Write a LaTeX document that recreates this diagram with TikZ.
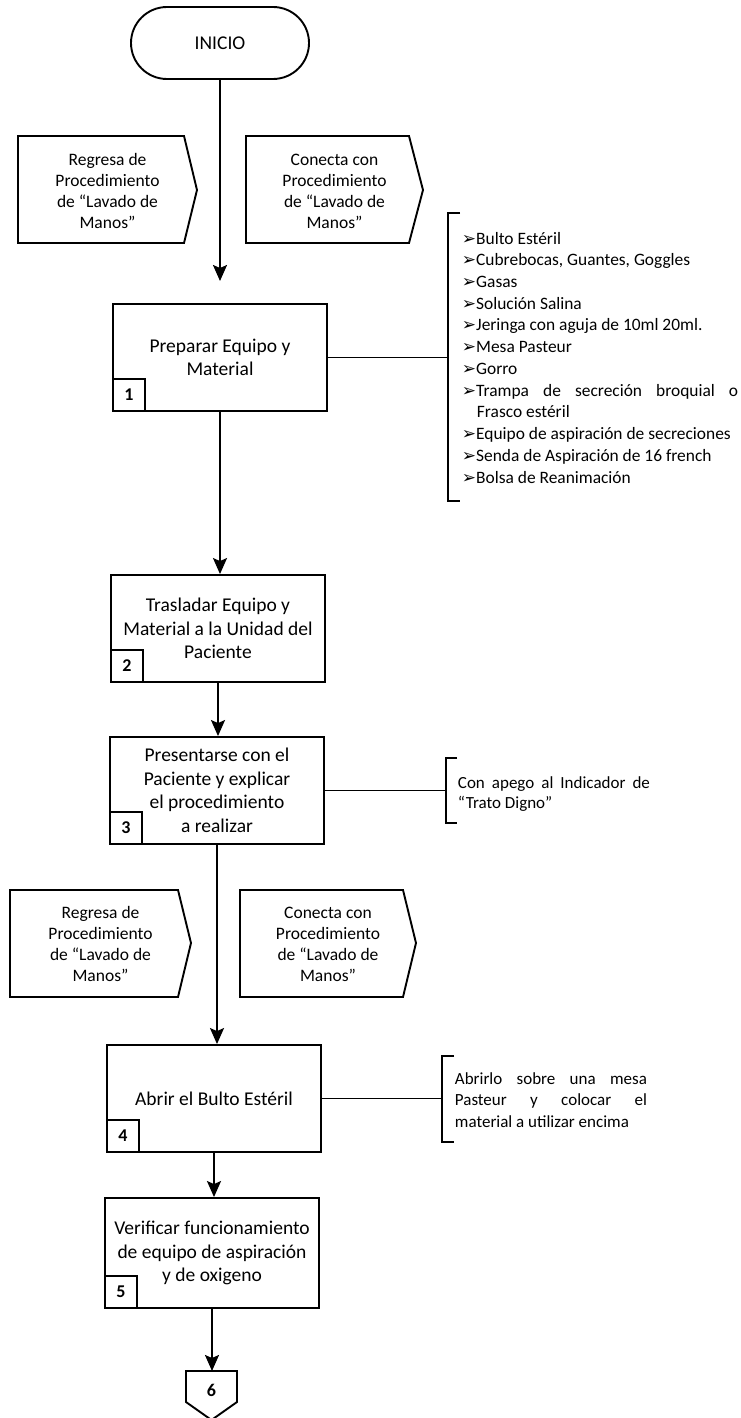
\documentclass[tikz,border=0pt]{standalone}
\usepackage{fontspec}
\setmainfont{Carlito}
\newfontfamily\dingfont{DejaVu Sans}
\usetikzlibrary{arrows.meta}
\newcommand{\lstmark}{{\dingfont\fontsize{17}{17}\selectfont ➢}}
\begin{document}
\begin{tikzpicture}[x=1pt,y=-1pt,
  line width=1.9pt,
  stepbox/.style={draw, rectangle, minimum width=214pt, minimum height=107pt,
    align=center, inner sep=0pt, font=\fontsize{19.5}{23.5}\selectfont},
  numbox/.style={draw, rectangle, minimum size=32pt, inner sep=0pt,
    anchor=south west, font=\bfseries\fontsize{18}{18}\selectfont},
  flow/.style={-{Stealth[length=16pt,width=14pt,inset=3pt]}},
  linkshape/.style={draw, line join=miter},
  linktext/.style={align=center, inner sep=0pt, font=\fontsize{17.5}{21}\selectfont},
  listitem/.style={anchor=base west, inner sep=0pt, font=\fontsize{17.4}{21}\selectfont},
  note/.style={anchor=base west, inner sep=0pt},
  brace/.style={draw, line width=1.6pt}
]
\useasboundingbox[fill=white] (0,0) rectangle (740,1418);

% start terminal
\node[draw, rounded corners=36pt, minimum width=178pt, minimum height=72pt,
  inner sep=0pt, font=\fontsize{19.5}{23.5}\selectfont] (inicio) at (220,43) {INICIO};

% first pair of off-page links
\draw[linkshape] (18,136) -- (184,136) -- (197,190) -- (184,243) -- (18,243) -- cycle;
\node[linktext] (c1) at (107.5,191) {Regresa de\\Procedimiento\\de “Lavado de\\Manos”};
\draw[linkshape] (246,136) -- (409,136) -- (423,190) -- (409,243) -- (246,243) -- cycle;
\node[linktext] (c2) at (334.5,191) {Conecta con\\Procedimiento\\de “Lavado de\\Manos”};

% process steps
\node[stepbox] (b1) at (220,357.5) {Preparar Equipo y\\Material};
\node[numbox] (n1) at (b1.south west) {1};
\node[stepbox] (b2) at (218,628.5) {Trasladar Equipo y\\Material a la Unidad del\\Paciente};
\node[numbox] (n2) at (b2.south west) {2};
\node[stepbox] (b3) at (217,790.5) {Presentarse con el\\Paciente y explicar\\el procedimiento\\a realizar};
\node[numbox] (n3) at (b3.south west) {3};
\node[stepbox] (b4) at (214,1098.5) {Abrir el Bulto Estéril};
\node[numbox] (n4) at (b4.south west) {4};
\node[stepbox, minimum height=110pt] (b5) at (212,1253) {Verificar funcionamiento\\de equipo de aspiración\\y de oxigeno};
\node[numbox] (n5) at (b5.south west) {5};

% second pair of off-page links
\draw[linkshape] (10,890) -- (178,890) -- (191,943) -- (178,997) -- (10,997) -- cycle;
\node[linktext] (c3) at (100.5,944) {Regresa de\\Procedimiento\\de “Lavado de\\Manos”};
\draw[linkshape] (240,890) -- (403,890) -- (416,943) -- (403,997) -- (240,997) -- cycle;
\node[linktext] (c4) at (328,944) {Conecta con\\Procedimiento\\de “Lavado de\\Manos”};

% off-page connector to step 6
\coordinate (p6top) at (211.5,1371);
\draw[linkshape] (186,1371) -- (237,1371) -- (237,1402) -- (211.5,1420) -- (186,1402) -- cycle;
\node[inner sep=0pt, font=\bfseries\fontsize{18}{18}\selectfont] (p6) at (211.5,1390) {6};

% flow arrows
\coordinate (a1) at (220,281);
\draw[flow] (inicio.south) -- (a1);
\draw[flow] (b1.south) -- (b1.south |- b2.north);
\draw[flow] (b2.south) -- (b2.south |- b3.north);
\draw[flow] (b3.south) -- (b3.south |- b4.north);
\draw[flow] (b4.south) -- (b4.south |- b5.north);
\draw[flow] (b5.south) -- (b5.south |- p6top);

% material list bracket
\coordinate (k1t) at (448,213);
\coordinate (k1b) at (448,501);
\draw (b1.east) -- (b1.east -| k1t);
\draw[brace] ([xshift=12pt]k1t) -- (k1t) -- (k1b) -- ([xshift=12pt]k1b);
\foreach \t [count=\i from 0] in {{Bulto Estéril},{Cubrebocas, Guantes, Goggles},{Gasas},
    {Solución Salina},{Jeringa con aguja de 10ml 20ml.},{Mesa Pasteur},{Gorro}}
  \node[listitem] (li\i) at (461,{244+21.73*\i}) {\lstmark\t};
\node[listitem] (li7) at (461,{244+21.73*7}) {\lstmark\makebox[262pt][s]{Trampa de secreción broquial o}};
\node[listitem] (li8) at (476,{244+21.73*8}) {Frasco estéril};
\foreach \t [count=\i from 9] in {{Equipo de aspiración de secreciones},
    {Senda de Aspiración de 16 french},{Bolsa de Reanimación}}
  \node[listitem] (li\i) at (461,{244+21.73*\i}) {\lstmark\t};

% note for step 3
\coordinate (k3t) at (446,758);
\coordinate (k3b) at (446,823);
\draw (b3.east) -- (b3.east -| k3t);
\draw[brace] ([xshift=11pt]k3t) -- (k3t) -- (k3b) -- ([xshift=11pt]k3b);
\node[note] (t3) at (457,788) {\parbox[t]{192pt}{\fontsize{17}{20.5}\selectfont
  Con apego al Indicador de\linebreak “Trato Digno”}};

% note for step 4
\coordinate (k4t) at (442,1056);
\coordinate (k4b) at (442,1142);
\draw (b4.east) -- (b4.east -| k4t);
\draw[brace] ([xshift=12pt]k4t) -- (k4t) -- (k4b) -- ([xshift=12pt]k4b);
\node[note] (t4) at (454,1084) {\parbox[t]{192pt}{\fontsize{17}{21.5}\selectfont
  Abrirlo sobre una mesa\linebreak Pasteur y colocar el\linebreak material a utilizar encima}};
\end{tikzpicture}
\end{document}
